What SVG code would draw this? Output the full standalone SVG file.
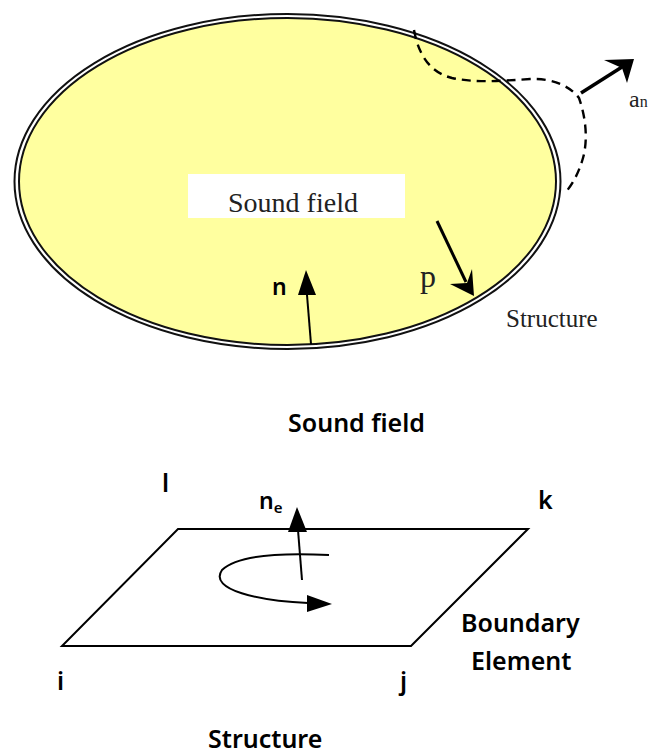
<svg xmlns="http://www.w3.org/2000/svg" width="656" height="752" viewBox="0 0 656 752">
<style>
.s{font-family:"Liberation Serif","DejaVu Serif",serif;fill:#222}
.b{font-family:"Noto Sans","Liberation Sans",sans-serif;font-weight:600;fill:#000}
.l{fill:none;stroke:#000;stroke-width:2}
.a{stroke:#000;fill:none}
</style>
<defs>
<marker id="h" markerUnits="userSpaceOnUse" markerWidth="28" markerHeight="24" refX="25" refY="10" orient="auto"><path d="M0 0L25 10L0 20Z" fill="#000"/></marker>
</defs>
<rect width="656" height="752" fill="#fff"/>
<g id="sound-field-domain">
<ellipse cx="287.5" cy="181.5" rx="273" ry="167.5" fill="#fff" stroke="#111" stroke-width="2"/>
<ellipse cx="287.5" cy="181.5" rx="268.5" ry="163.5" fill="#ffff9f" stroke="#111" stroke-width="2"/>
<rect x="188" y="174" width="217" height="44" fill="#fff"/>
<text class="s" x="293" y="212" font-size="28" text-anchor="middle">Sound field</text>
</g>
<g id="labels-top">
<text class="s" x="629" y="107" font-size="24">a<tspan font-size="16">n</tspan></text>
<text class="s" x="420" y="287" font-size="32">p</text>
<text class="s" x="506" y="327" font-size="25">Structure</text>
<text class="b" x="272" y="295" font-size="23">n</text>
<text class="b" x="288" y="432" font-size="25">Sound field</text>
</g>
<g id="boundary-element">
<path class="l" d="M178 529H528L411 646H62Z"/>
<text class="b" x="162" y="492" font-size="25">l</text>
<text class="b" x="259" y="509" font-size="23">n<tspan font-size="15" dy="4">e</tspan></text>
<text class="b" x="538" y="509" font-size="25">k</text>
<text class="b" x="57" y="690" font-size="25">i</text>
<text class="b" x="400" y="690" font-size="25">j</text>
<text class="b" x="461" y="632" font-size="25">Boundary</text>
<text class="b" x="471" y="670" font-size="25">Element</text>
<text class="b" x="208" y="748" font-size="25">Structure</text>
</g>
<g id="connectors">
<path class="a" stroke-width="2.4" stroke-dasharray="9 6" d="M414 30C418 52 428 72 452 78C476 83 500 81 530 79C552 78 570 86 579 98C586 118 588 140 583 158C579 172 573 184 565 193"/>
<path class="a" stroke-width="3.5" d="M581 93L622 67"/>
<path d="M634 59L604 60L622 68L627 83Z" fill="#000"/>
<path class="a" stroke-width="3" d="M437 221L466 282"/>
<path d="M474 296L472 269L467 283L450 284Z" fill="#000"/>
<path class="a" stroke-width="2" d="M311 344L307 295"/>
<path d="M306 270L298 295H316Z" fill="#000"/>
<path class="a" stroke-width="2" d="M302 580L298 530"/>
<path d="M297 507L288 532H307Z" fill="#000"/>
<path class="a" stroke-width="2" d="M329 555C290 553 240 553 222 570C208 590 260 601 308 603"/>
<path d="M332 604L307 595V612Z" fill="#000"/>
</g>
</svg>
